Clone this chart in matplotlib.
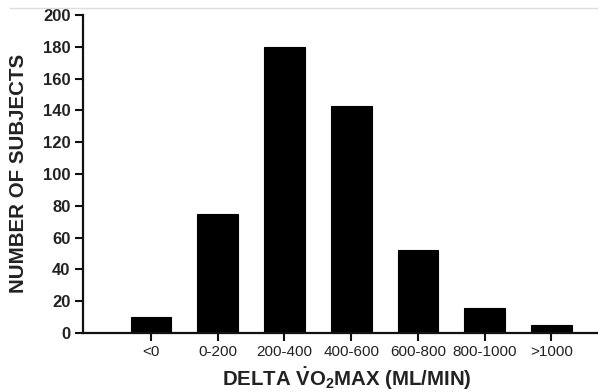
import matplotlib.pyplot as plt
from matplotlib.lines import Line2D

plt.rcParams['font.family'] = 'Liberation Sans'
plt.rcParams['mathtext.fontset'] = 'custom'
plt.rcParams['mathtext.rm'] = 'Liberation Sans'
plt.rcParams['mathtext.bf'] = 'Liberation Sans:bold'

categories = ['<0', '0-200', '200-400', '400-600', '600-800', '800-1000', '>1000']
subjects = [10, 75, 180, 143, 52, 16, 5]
yticks = [0, 20, 40, 60, 80, 100, 120, 140, 160, 180, 200]

W, H = 598, 391
fig = plt.figure(figsize=(W / 100, H / 100), dpi=100)
ax = fig.add_axes([83 / W, 1 - 333 / H, 1 - 83 / W, (333 - 15) / H])

x = list(range(len(categories)))
ax.bar(x, subjects, width=0.61, color='black', edgecolor='black', linewidth=0.8)

ax.set_xlim(-1.02, 6.7)
ax.set_ylim(0, 200)
ax.set_xticks(x)
ax.set_xticklabels(categories, fontsize=11, color='#222222')
ax.set_yticks(yticks)
ax.set_yticklabels([str(v) for v in yticks], fontsize=12, fontweight='bold', color='#222222')

ax.spines['top'].set_visible(False)
ax.spines['right'].set_visible(False)
for s in ['left', 'bottom']:
    ax.spines[s].set_linewidth(1.6)
    ax.spines[s].set_color('#111111')
ax.tick_params(axis='both', direction='out', length=6, width=1.5, color='#111111')
ax.tick_params(axis='x', pad=3)
ax.tick_params(axis='y', pad=3)

# axis titles placed in figure pixels
fig.text(18.5 / W, 1 - 173 / H, 'NUMBER OF SUBJECTS', rotation=90, ha='center', va='center',
         fontsize=14.8, fontweight='bold', color='#222222')
fig.text(347 / W, 1 - 386.5 / H, r'DELTA $\mathbf{\dot{V}O_2}$MAX (ML/MIN)', ha='center',
         va='baseline', fontsize=14.7, fontweight='bold', color='#222222')

# thin grey rule along the top edge
fig.add_artist(Line2D([10 / W, 1], [1 - 8 / H, 1 - 8 / H], color='#dddddd', linewidth=1,
                      transform=fig.transFigure))

fig.savefig('out.png', dpi=100)
